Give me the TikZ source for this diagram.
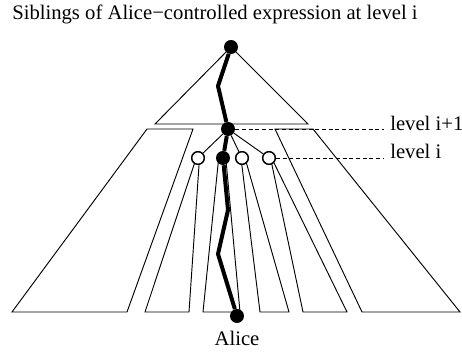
\documentclass[tikz,border=0pt]{standalone}
\usepackage{fontspec}
\setmainfont{Liberation Serif}

\begin{document}
\begin{tikzpicture}[x=0.75pt, y=-0.75pt,
    every node/.style={font=\fontsize{15.5}{18}\selectfont},
    dot/.style={circle, fill=black, inner sep=0pt, minimum size=10.5pt},
    hollow/.style={circle, draw, fill=white, line width=1.1pt, inner sep=0pt, minimum size=9.5pt},
    treeline/.style={line width=0.7pt},
    alicepath/.style={line width=3pt, line join=round},
    guide/.style={line width=0.7pt, dash pattern=on 3pt off 2pt}]
    \useasboundingbox (0,0) rectangle (462,352);

    % subtrees
    \draw[treeline] (155,124) -- (231,47) -- (308,124) -- cycle;
    \draw[treeline] (147,129) -- (193,129) -- (127,312) -- (12,312) -- cycle;
    \draw[treeline] (275,129) -- (313,129) -- (460,312) -- (362,312) -- cycle;
    \draw[treeline] (196.3,158) -- (199.5,158) -- (189,312) -- (145,312) -- cycle;
    \draw[treeline] (218.7,158) -- (225.8,158) -- (240,312) -- (203,312) -- cycle;
    \draw[treeline] (241,158) -- (245,158) -- (289,312) -- (260,312) -- cycle;
    \draw[treeline] (270.5,158) -- (271.6,158) -- (347,312) -- (303,312) -- cycle;

    \node[dot] (root) at (231,47) {};
    \node[dot] (ip1) at (228,129) {};
    \node[hollow] (sibA) at (198,158) {};
    \node[dot] (own) at (223,158) {};
    \node[hollow] (sibC) at (242,158) {};
    \node[hollow] (sibD) at (269,158) {};
    \node[dot] (alice) at (237,316) {};

    \coordinate (b1) at (218,86);
    \coordinate (b2) at (228,210);
    \coordinate (b3) at (218,254);
    \coordinate (gup) at (384,129);
    \coordinate (gown) at (384,158);

    \draw[treeline] (ip1) -- (sibA);
    \draw[treeline] (ip1) -- (sibC);
    \draw[treeline] (ip1) -- (sibD);
    \draw[alicepath] (root) -- (b1) -- (ip1) -- (own) -- (b2) -- (b3) -- (alice);

    \draw[guide] (ip1) -- (gup);
    \draw[guide] (sibD) -- (gown);

    \node[anchor=base west, inner sep=0pt] (lvlup) at (390,131) {level i+1};
    \node[anchor=base west, inner sep=0pt] (lvlown) at (390,159) {level i};
    \node[anchor=base, inner sep=0pt] (alicename) at (237,346) {Alice};
    \node[anchor=base west, inner sep=0pt] (title) at (12,20) {Siblings of Alice−controlled expression at level i};
\end{tikzpicture}
\end{document}
